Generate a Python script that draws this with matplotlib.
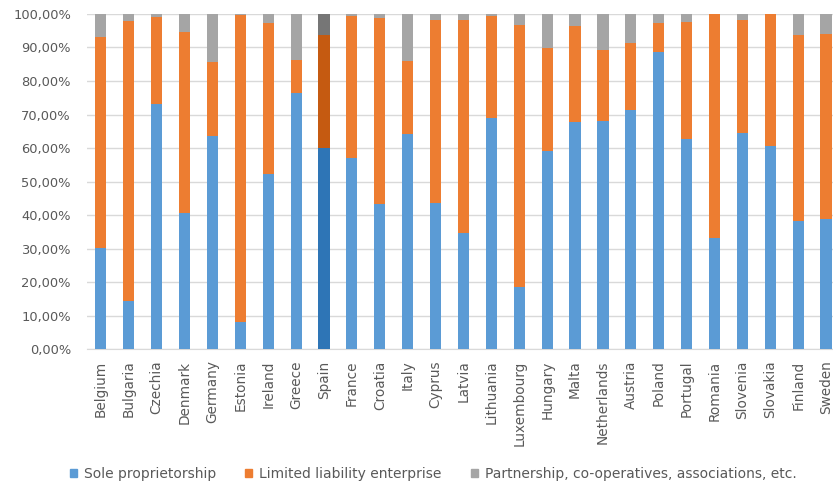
import matplotlib.pyplot as plt
from matplotlib.ticker import FuncFormatter, MultipleLocator
from matplotlib.patches import Patch

countries = ['Belgium', 'Bulgaria', 'Czechia', 'Denmark', 'Germany', 'Estonia', 'Ireland',
             'Greece', 'Spain', 'France', 'Croatia', 'Italy', 'Cyprus', 'Latvia', 'Lithuania',
             'Luxembourg', 'Hungary', 'Malta', 'Netherlands', 'Austria', 'Poland', 'Portugal',
             'Romania', 'Slovenia', 'Slovakia', 'Finland', 'Sweden']

# shares in percent
sole = [30.3, 14.3, 73.2, 40.7, 63.5, 8.2, 52.3, 76.3, 60.0, 57.0, 43.4, 64.3, 43.6, 34.6,
        69.1, 18.5, 59.0, 67.8, 68.0, 71.5, 88.8, 62.6, 33.3, 64.5, 60.6, 38.3, 38.9]
limited = [62.7, 83.6, 25.8, 53.8, 22.3, 91.5, 44.9, 10.0, 33.6, 42.4, 55.5, 21.7, 54.6, 63.6,
           30.3, 78.1, 30.9, 28.6, 21.3, 19.7, 8.6, 35.1, 66.6, 33.7, 39.3, 55.3, 55.1]
partner = [7.0, 2.1, 1.0, 5.5, 14.2, 0.3, 2.8, 13.7, 6.4, 0.6, 1.1, 14.0, 1.8, 1.8,
           0.6, 3.4, 10.1, 3.6, 10.7, 8.8, 2.6, 2.3, 0.1, 1.8, 0.1, 6.4, 6.0]

series_names = ['Sole proprietorship', 'Limited liability enterprise',
                'Partnership, co-operatives, associations, etc.']
colors = ['#5B9BD5', '#ED7D31', '#A5A5A5']
highlight_colors = ['#2E75B6', '#C55A11', '#767676']
highlight = 'Spain'

fig = plt.figure(figsize=(8.33, 4.86), dpi=100)
ax = fig.add_axes([0.1044, 0.2813, 0.904, 0.690])

x = list(range(len(countries)))
bottom = [0.0] * len(countries)
for vals, col, hcol in zip([sole, limited, partner], colors, highlight_colors):
    fracs = [v / 100 for v in vals]
    cols = [hcol if c == highlight else col for c in countries]
    ax.bar(x, fracs, bottom=bottom, width=0.4, color=cols, zorder=3)
    bottom = [b + f for b, f in zip(bottom, fracs)]

ax.set_xlim(-0.5, len(countries) - 0.5)
ax.set_ylim(0, 1)
ax.yaxis.set_major_locator(MultipleLocator(0.1))
ax.yaxis.set_major_formatter(FuncFormatter(lambda v, p: f"{v * 100:.2f}%".replace('.', ',')))
ax.grid(axis='y', color='#D9D9D9', linewidth=1, zorder=0)

ax.set_xticks(x)
ax.set_xticklabels(countries, rotation=90, fontsize=9.8, color='#595959')
ax.tick_params(axis='x', length=0, pad=8)
ax.tick_params(axis='y', length=0, pad=11.5, labelsize=9.4, labelcolor='#595959')

for s in ['top', 'right', 'left']:
    ax.spines[s].set_visible(False)
ax.spines['bottom'].set_color('#D9D9D9')

handles = [Patch(color=c) for c in colors]
fig.legend(handles, series_names, loc='center', bbox_to_anchor=(0.52, 0.024), ncol=3,
           frameon=False, fontsize=10, handlelength=0.5, handleheight=0.5,
           handletextpad=0.5, columnspacing=2.1, labelcolor='#595959',
           borderpad=0, borderaxespad=0)

fig.savefig('out.png', dpi=100)
